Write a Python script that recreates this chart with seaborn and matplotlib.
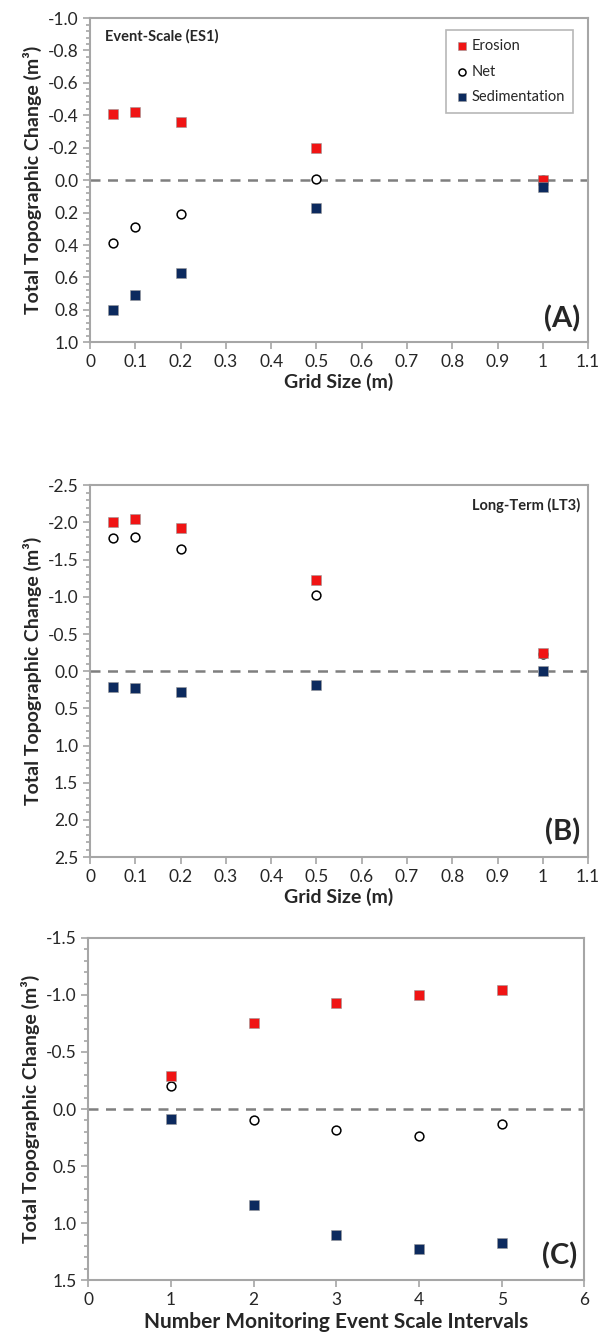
import matplotlib
matplotlib.use("Agg")
import matplotlib.pyplot as plt
import seaborn as sns
import pandas as pd
from matplotlib.ticker import MultipleLocator, AutoMinorLocator

# data
grid_size = [0.05, 0.1, 0.2, 0.5, 1.0]
es_erosion = [-0.41, -0.42, -0.36, -0.20, 0.0]
es_net = [0.39, 0.29, 0.21, -0.01, 0.0]
es_sed = [0.80, 0.71, 0.57, 0.17, 0.04]

lt_erosion = [-2.00, -2.05, -1.93, -1.22, -0.24]
lt_net = [-1.79, -1.81, -1.64, -1.02, -0.23]
lt_sed = [0.21, 0.23, 0.28, 0.19, 0.0]

intervals = [1, 2, 3, 4, 5]
iv_erosion = [-0.29, -0.75, -0.93, -1.00, -1.04]
iv_net = [-0.20, 0.10, 0.18, 0.24, 0.13]
iv_sed = [0.09, 0.84, 1.10, 1.23, 1.17]

sns.set_style("white")
plt.rcParams['font.family'] = ['Lato', 'DejaVu Sans']

RED = "#f01414"
NAVY = "#0c2a5e"
GRAY = "#a6a6a6"

fig = plt.figure(figsize=(6.05, 13.37), dpi=100)
axA = fig.add_axes([0.149, 0.744, 0.823, 0.2425])
axB = fig.add_axes([0.149, 0.359, 0.823, 0.278])
axC = fig.add_axes([0.146, 0.0425, 0.82, 0.256])


def draw(ax, x, ero, net, sed):
    df = pd.DataFrame({"x": x, "Erosion": ero, "Net": net, "Sedimentation": sed})
    sns.scatterplot(data=df, x="x", y="Erosion", ax=ax, marker="s", s=55,
                    color=RED, edgecolor="#999999", linewidth=0.4, label="Erosion", zorder=4)
    sns.scatterplot(data=df, x="x", y="Net", ax=ax, marker="o", s=40,
                    facecolor="white", edgecolor="black", linewidth=1.1, label="Net", zorder=3)
    sns.scatterplot(data=df, x="x", y="Sedimentation", ax=ax, marker="s", s=55,
                    color=NAVY, edgecolor="#999999", linewidth=0.4, label="Sedimentation", zorder=4)
    ax.axhline(0, color="#7f7f7f", lw=1.8, ls=(0, (4, 3)), zorder=1)
    for sp in ax.spines.values():
        sp.set_color(GRAY)
        sp.set_linewidth(1.5)
    ax.tick_params(axis="both", which="both", direction="out", color=GRAY,
                   labelsize=12.5, length=5, width=1.2, left=True, bottom=True)
    ax.tick_params(axis="y", which="minor", length=3)
    ax.set_ylabel("Total Topographic Change (m³)", fontsize=14, fontweight="bold")


def fmt_x(v):
    return "%g" % v


# panel A
draw(axA, grid_size, es_erosion, es_net, es_sed)
axA.set_xlim(0, 1.1)
axA.set_ylim(1.0, -1.0)
axA.set_xticks([round(i * 0.1, 1) for i in range(12)])
axA.set_xticklabels([fmt_x(round(i * 0.1, 1)) for i in range(12)])
axA.set_yticks([round(-1 + i * 0.2, 1) for i in range(11)])
axA.set_yticklabels(["%.1f" % round(-1 + i * 0.2, 1) for i in range(11)])
axA.yaxis.set_minor_locator(AutoMinorLocator(5))
axA.set_xlabel("Grid Size (m)", fontsize=14, fontweight="bold", labelpad=2)
axA.text(0.03, 0.965, "Event-Scale (ES1)", transform=axA.transAxes, fontsize=10.5,
         fontweight="bold", va="top")
axA.text(0.985, 0.03, "(A)", transform=axA.transAxes, fontsize=21,
         fontweight="bold", ha="right", va="bottom")
leg = axA.legend(loc="upper right", bbox_to_anchor=(0.985, 0.985), fontsize=10.5,
                 frameon=True, fancybox=False, handletextpad=0.1, labelspacing=0.8,
                 borderpad=0.6, markerscale=0.8, handlelength=1.0)
leg.get_frame().set_edgecolor(GRAY)
leg.get_frame().set_linewidth(1.2)

# panel B
draw(axB, grid_size, lt_erosion, lt_net, lt_sed)
axB.get_legend().remove()
axB.set_xlim(0, 1.1)
axB.set_ylim(2.5, -2.5)
axB.set_xticks([round(i * 0.1, 1) for i in range(12)])
axB.set_xticklabels([fmt_x(round(i * 0.1, 1)) for i in range(12)])
axB.set_yticks([round(-2.5 + i * 0.5, 1) for i in range(11)])
axB.set_yticklabels(["%.1f" % round(-2.5 + i * 0.5, 1) for i in range(11)])
axB.yaxis.set_minor_locator(AutoMinorLocator(5))
axB.set_xlabel("Grid Size (m)", fontsize=14, fontweight="bold", labelpad=2)
axB.text(0.985, 0.965, "Long-Term (LT3)", transform=axB.transAxes, fontsize=10.5,
         fontweight="bold", va="top", ha="right")
axB.text(0.985, 0.03, "(B)", transform=axB.transAxes, fontsize=21,
         fontweight="bold", ha="right", va="bottom")

# panel C
draw(axC, intervals, iv_erosion, iv_net, iv_sed)
axC.get_legend().remove()
axC.set_xlim(0, 6)
axC.set_ylim(1.5, -1.5)
axC.set_xticks(range(7))
axC.set_yticks([round(-1.5 + i * 0.5, 1) for i in range(7)])
axC.set_yticklabels(["%.1f" % round(-1.5 + i * 0.5, 1) for i in range(7)])
axC.yaxis.set_minor_locator(AutoMinorLocator(5))
axC.set_xlabel("Number Monitoring Event Scale Intervals", fontsize=15,
               fontweight="bold", labelpad=3)
axC.text(0.985, 0.03, "(C)", transform=axC.transAxes, fontsize=21,
         fontweight="bold", ha="right", va="bottom")

fig.savefig("out.png", dpi=100)
